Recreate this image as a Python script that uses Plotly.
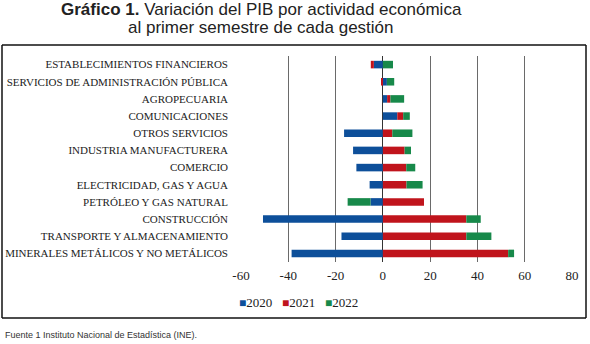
import plotly.graph_objects as go

# Sectors, listed top to bottom as they appear on the chart
sectors = [
    "ESTABLECIMIENTOS FINANCIEROS",
    "SERVICIOS DE ADMINISTRACIÓN PÚBLICA",
    "AGROPECUARIA",
    "COMUNICACIONES",
    "OTROS SERVICIOS",
    "INDUSTRIA MANUFACTURERA",
    "COMERCIO",
    "ELECTRICIDAD, GAS Y AGUA",
    "PETRÓLEO Y GAS NATURAL",
    "CONSTRUCCIÓN",
    "TRANSPORTE Y ALMACENAMIENTO",
    "MINERALES METÁLICOS Y NO METÁLICOS",
]

# First-half GDP variation (%) per year
var_2020 = [-3.8, 1.7, 1.8, 6.1, -16.4, -12.6, -11.2, -5.6, -5.2, -50.7, -17.5, -38.6]
var_2021 = [-1.3, -0.8, 1.4, 2.5, 4.0, 9.2, 9.9, 10.0, 17.4, 35.3, 35.3, 53.0]
var_2022 = [4.3, 3.1, 5.8, 2.8, 8.5, 2.7, 3.8, 6.8, -9.7, 6.1, 10.6, 2.5]

years = ["2020", "2021", "2022"]
colors = ["#0d4f9a", "#c0141c", "#17894a"]
x_ticks = [-60, -40, -20, 0, 20, 40, 60, 80]

serif = "Liberation Serif"
sans = "Liberation Sans"

# plot area in pixels
L, R, T, B = 241, 572, 56, 262
W, H = R - L, B - T


def px(x):
    return (x - L) / W


def py(y):
    return (B - y) / H


fig = go.Figure()
for name, vals, col in zip(years, [var_2020, var_2021, var_2022], colors):
    fig.add_trace(go.Bar(
        y=sectors, x=vals, name=name, orientation="h",
        marker=dict(color=col, line=dict(width=0)),
    ))

# compact legend line: coloured square followed by the year
legend_text = "&nbsp;&nbsp;&nbsp;".join(
    f"<span style='color:{c};font-size:12px'>■</span>{y}" for y, c in zip(years, colors)
)

# frame around the chart, drawn as four edges
fx0, fx1, fy0, fy1 = px(2), px(586), py(318), py(45)
frame = [
    dict(type="line", xref="paper", yref="paper", x0=a, y0=b, x1=c, y1=d,
         line=dict(color="#111", width=1.5), layer="above")
    for a, b, c, d in [
        (fx0, fy0, fx1, fy0), (fx0, fy1, fx1, fy1),
        (fx0, fy0, fx0, fy1), (fx1, fy0, fx1, fy1),
    ]
]

fig.update_layout(
    width=590, height=344,
    margin=dict(l=L, r=590 - R, t=T, b=344 - B, autoexpand=False),
    barmode="relative",
    bargap=0.56,
    paper_bgcolor="white",
    plot_bgcolor="white",
    showlegend=False,
    xaxis=dict(
        range=[-60, 80], tickvals=x_ticks, ticktext=[str(v) for v in x_ticks],
        showgrid=True, gridcolor="#6a6a6a", gridwidth=1,
        zeroline=True, zerolinecolor="#333333", zerolinewidth=1,
        showline=False, ticks="", ticklabelstandoff=4, automargin=False,
        tickfont=dict(family=serif, size=13, color="#222"),
    ),
    yaxis=dict(
        autorange="reversed", showgrid=False, ticks="", showline=False,
        tickfont=dict(family=serif, size=11, color="#222"),
        ticklabelstandoff=12, automargin=False,
    ),
    annotations=[
        dict(
            text="<b>Gráfico 1.</b> Variación del PIB por actividad económica",
            xref="paper", yref="paper", x=px(261), y=py(9),
            xanchor="center", yanchor="middle", showarrow=False,
            font=dict(family=sans, size=17, color="#222"),
        ),
        dict(
            text="al primer semestre de cada gestión",
            xref="paper", yref="paper", x=px(261), y=py(27),
            xanchor="center", yanchor="middle", showarrow=False,
            font=dict(family=sans, size=17, color="#222"),
        ),
        dict(
            text=legend_text,
            xref="paper", yref="paper", x=px(298), y=py(302),
            xanchor="center", yanchor="middle", showarrow=False,
            font=dict(family=serif, size=13, color="#222"),
        ),
        dict(
            text="Fuente 1 Instituto Nacional de Estadística (INE).",
            xref="paper", yref="paper", x=px(3), y=py(335),
            xanchor="left", yanchor="middle", showarrow=False,
            font=dict(family=sans, size=9, color="#333"),
        ),
    ],
    shapes=frame,
)

fig.write_html("out.html")
